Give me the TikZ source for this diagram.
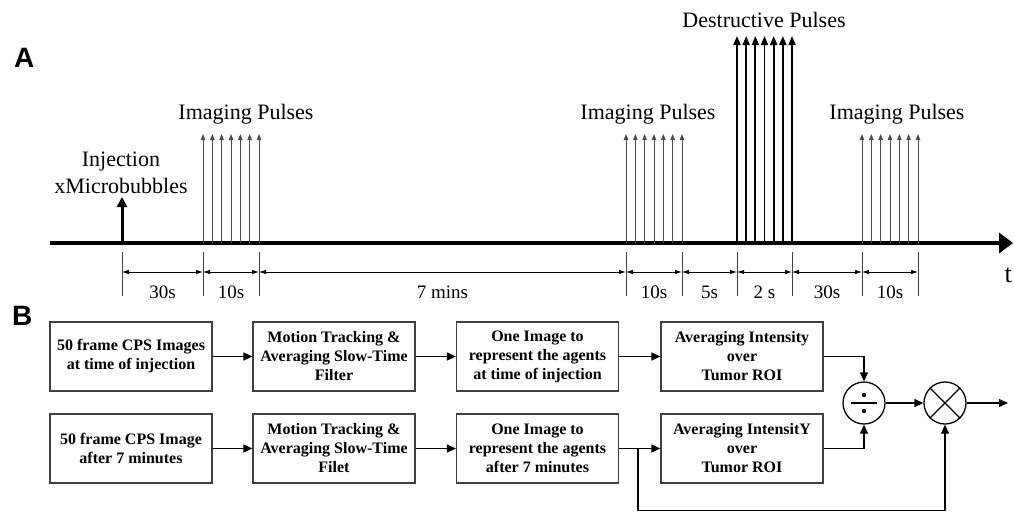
\documentclass[tikz,border=0pt]{standalone}
\usepackage{fontspec}
\setmainfont{Liberation Serif}
\newfontfamily\lsans{Liberation Sans}
\usetikzlibrary{arrows.meta}
\begin{document}
\begin{tikzpicture}[x=1pt,y=-1pt,
 box/.style={draw=black!75,line width=1.3pt,minimum width=162pt,minimum height=69pt,inner sep=0pt,align=center,font=\fontsize{16}{19}\selectfont\bfseries},
 flow/.style={-{Triangle[length=9pt,width=8pt]},line width=1.3pt},
 lbl/.style={font=\fontsize{22}{27}\selectfont,anchor=base,inner sep=0pt},
 dimtxt/.style={font=\fontsize{19}{22}\selectfont,anchor=base,inner sep=0pt},
 ipulse/.style={line width=0.9pt,draw=black!70,-{Triangle[length=6pt,width=4.5pt]}},
 dpulse/.style={line width=1.8pt,-{Triangle[length=9pt,width=7pt]}},
 tickline/.style={line width=1pt,draw=black!75},
 dimarrow/.style={line width=0.8pt,{Latex[length=7pt,width=4.5pt]}-{Latex[length=7pt,width=4.5pt]}},
 panel/.style={font=\lsans\bfseries\fontsize{28}{30}\selectfont,anchor=base west,inner sep=0pt},
 sumcirc/.style={circle,draw,line width=1.3pt,minimum size=42pt,inner sep=0pt},
]
\useasboundingbox (0,0) rectangle (1014,512);
% panel letters
\node[panel] (pa) at (14,67) {A};
\node[panel] (pb) at (12,325) {B};
% time axis
\coordinate (ax0) at (50,243);
\coordinate (ax1) at (1013,243);
\draw[line width=4pt,-{Triangle[length=14pt,width=20pt]}] (ax0) -- (ax1);
\node[font=\fontsize{26}{28}\selectfont,anchor=base east,inner sep=0pt] (tlab) at (1012,282) {t};
% injection
\coordinate (inj0) at (122,243);
\coordinate (inj1) at (122,197);
\draw[line width=3pt,-{Triangle[length=10pt,width=10pt]}] (inj0) -- (inj1);
\node[lbl] (injA) at (121,166) {Injection};
\node[lbl] (injB) at (121,193) {xMicrobubbles};
% imaging pulses
\foreach \s in {203,626,862}{
  \foreach \i in {0,...,6}{
    \draw[ipulse] ({\s+\i*9.33},243) -- ({\s+\i*9.33},134);
  }
}
\node[lbl] (ip1) at (246,119) {Imaging Pulses};
\node[lbl] (ip2) at (648,119) {Imaging Pulses};
\node[lbl] (ip3) at (897,119) {Imaging Pulses};
% destructive pulses
\foreach \i in {0,...,6}{
  \draw[dpulse] ({737+\i*9.17},243) -- ({737+\i*9.17},36);
}
\node[lbl] (dp) at (764,27) {Destructive Pulses};
% dimension ticks
\foreach \x in {122,203,259,626,682,737,792,862,918}{
  \draw[tickline] (\x,252) -- (\x,296);
}
\foreach \a/\b/\t in {122/203/30s,203/259/10s,259/626/7 mins,626/682/10s,682/737/5s,737/792/2 s,792/862/30s,862/918/10s}{
  \draw[dimarrow] (\a,272) -- (\b,272);
  \node[dimtxt] at ({(\a+\b)/2},298) {\t};
}
% block diagram
\node[box] (a1) at (131,356.5) {50 frame CPS Images\\at time of injection};
\node[box] (a2) at (334,356.5) {Motion Tracking \&\\Averaging Slow-Time\\Filter};
\node[box] (a3) at (537.5,356.5) {One Image to\\represent the agents\\at time of injection};
\node[box] (a4) at (742,356.5) {Averaging Intensity\\over\\Tumor ROI};
\node[box] (b1) at (131,448.5) {50 frame CPS Image\\after 7 minutes};
\node[box] (b2) at (334,448.5) {Motion Tracking \&\\Averaging Slow-Time\\Filet};
\node[box] (b3) at (537.5,448.5) {One Image to\\represent the agents\\after 7 minutes};
\node[box] (b4) at (742,448.5) {Averaging IntensitY\\over\\Tumor ROI};
\node[sumcirc] (div) at (864,403) {};
\node[sumcirc] (mul) at (945,403) {};
\draw[line width=1.3pt] ([xshift=-13pt]div.center) -- ([xshift=13pt]div.center);
\fill ([yshift=8pt]div.center) circle (2.2pt);
\fill ([yshift=-8pt]div.center) circle (2.2pt);
\draw[line width=1.3pt] (mul.north west) -- (mul.south east);
\draw[line width=1.3pt] (mul.north east) -- (mul.south west);
\coordinate (out) at (1008,403);
\coordinate (fb) at (638,448.5);
\coordinate (fbb) at (638,510.5);
\draw[flow] (a1) -- (a2);
\draw[flow] (a2) -- (a3);
\draw[flow] (a3) -- (a4);
\draw[flow] (b1) -- (b2);
\draw[flow] (b2) -- (b3);
\draw[flow] (b3) -- (b4);
\draw[flow] (a4.east) -| (div.north);
\draw[flow] (b4.east) -| (div.south);
\draw[flow] (div) -- (mul);
\draw[flow] (mul) -- (out);
\draw[flow] (fb) -- (fbb) -| (mul.south);
\end{tikzpicture}
\end{document}
